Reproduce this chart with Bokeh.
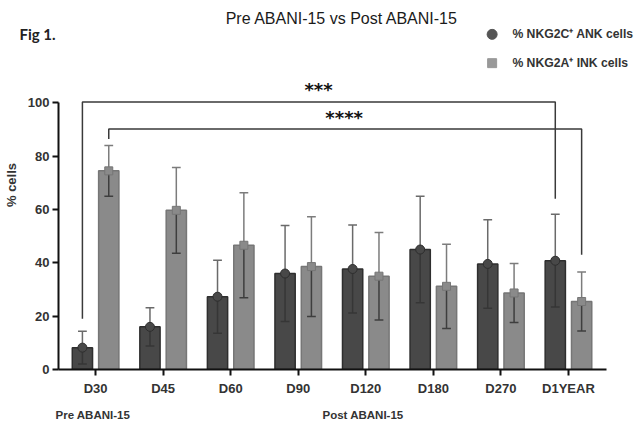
from bokeh.plotting import figure
from bokeh.models import (ColumnDataSource, Range1d, FixedTicker, LinearAxis, Title)
from bokeh.core.properties import value
from bokeh.embed import file_html
from bokeh.resources import INLINE

# ---- data ----
categories = ["D30", "D45", "D60", "D90", "D120", "D180", "D270", "D1YEAR"]
nkg2c_mean = [8.2, 16.0, 27.3, 36.0, 37.7, 45.0, 39.6, 40.8]
nkg2c_sd = [6.1, 7.2, 13.7, 18.0, 16.5, 20.0, 16.6, 17.4]
nkg2a_mean = [74.5, 59.7, 46.6, 38.6, 35.0, 31.2, 28.7, 25.5]
nkg2a_sd = [9.5, 16.1, 19.7, 18.7, 16.4, 15.8, 11.1, 11.1]
y_ticks = [0, 20, 40, 60, 80, 100]
series_names = ["% NKG2C\u207a ANK cells", "% NKG2A\u207a INK cells"]
group_labels = ["Pre ABANI-15", "Post ABANI-15"]
group_pos = [-0.04, 3.96]
sig_outer = "***"
sig_inner = "****"

FONT = "Liberation Sans"
DARK = "#484848"
DARK_LINE = "#2e2e2e"
LIGHT = "#8a8a8a"
LIGHT_LINE = "#767676"

X0, X_AXIS_END = -0.549, 7.568
p = figure(width=637, height=423, output_backend="svg", toolbar_location=None,
           x_range=Range1d(X0, 8.022), y_range=Range1d(0, 138.4),
           min_border_left=52, min_border_right=0, min_border_top=0,
           min_border_bottom=53, x_axis_type=None, y_axis_type=None)
p.grid.visible = False
p.outline_line_color = None
p.background_fill_color = "white"
p.border_fill_color = "white"

off = 0.195
w = 0.30
xs = list(range(len(categories)))
xd = [x - off for x in xs]
xl = [x + off for x in xs]

src_d = ColumnDataSource(dict(x=xd, top=nkg2c_mean,
                              hi=[m + s for m, s in zip(nkg2c_mean, nkg2c_sd)],
                              lo=[m - s for m, s in zip(nkg2c_mean, nkg2c_sd)]))
src_l = ColumnDataSource(dict(x=xl, top=nkg2a_mean,
                              hi=[m + s for m, s in zip(nkg2a_mean, nkg2a_sd)],
                              lo=[m - s for m, s in zip(nkg2a_mean, nkg2a_sd)]))

cap = 0.065
for src, fill, line, up_col, in_col, marker, msize in [
        (src_d, DARK, DARK_LINE, "#6a6a6a", "#363636", "circle", 9),
        (src_l, LIGHT, LIGHT_LINE, "#7c7c7c", "#3e3e3e", "square", 8)]:
    p.vbar(x="x", top="top", bottom=0, width=w, source=src, fill_color=fill,
           line_color=line, line_width=1.5)
    p.segment(x0="x", y0="top", x1="x", y1="hi", source=src, line_color=up_col, line_width=1.5)
    p.segment(x0="x", y0="lo", x1="x", y1="top", source=src, line_color=in_col, line_width=1.5)
    d = src.data
    p.segment(x0=[x - cap for x in d["x"]], x1=[x + cap for x in d["x"]],
              y0=d["hi"], y1=d["hi"], line_color=up_col, line_width=1.5)
    p.segment(x0=[x - cap for x in d["x"]], x1=[x + cap for x in d["x"]],
              y0=d["lo"], y1=d["lo"], line_color=in_col, line_width=1.5)
    p.scatter(x="x", y="top", source=src, marker=marker, size=msize,
              fill_color=fill, line_color=line, line_width=1)

# significance brackets
BR = "#3a3a3a"
p.line(x=[xd[0], xd[0], xd[-1], xd[-1]], y=[19, 100.3, 100.3, 64], line_color=BR, line_width=1.5)
p.line(x=[xl[0], xl[0], xl[-1], xl[-1]], y=[86.5, 90.2, 90.2, 43], line_color=BR, line_width=1.5)
p.text(x=[3.3], y=[105.0], text=[sig_outer], text_font=value("DejaVu Sans"), text_font_style="bold",
       text_font_size="18px", text_align="center", text_baseline="alphabetic", text_color="#111")
p.text(x=[3.68], y=[94.5], text=[sig_inner], text_font=value("DejaVu Sans"), text_font_style="bold",
       text_font_size="18px", text_align="center", text_baseline="alphabetic", text_color="#111")

# title
p.text(x=[3.65], y=[131.5], text=["Pre ABANI-15 vs Post ABANI-15"], text_font=value(FONT),
       text_font_size="16px", text_align="center", text_baseline="middle", text_color="#1a1a1a")

# legend
p.scatter(x=[5.87], y=[125.7], marker="circle", size=10, fill_color="#555", line_color="#555")
p.scatter(x=[5.87], y=[114.9], marker="square", size=9, fill_color="#999", line_color="#999")
p.text(x=[6.17, 6.17], y=[125.7, 114.9], text=series_names, text_font=value(FONT),
       text_font_style="bold", text_font_size="12.2px", text_align="left",
       text_baseline="middle", text_color="#333")

# axes
yax = LinearAxis(ticker=FixedTicker(ticks=y_ticks), bounds=(0, 100), axis_label="% cells")
yax.axis_line_width = 2
yax.axis_line_color = "#111"
yax.major_tick_line_width = 2
yax.major_tick_line_color = "#111"
yax.major_tick_out = 6
yax.major_tick_in = 0
yax.minor_tick_line_color = None
yax.major_label_text_font = FONT
yax.major_label_text_font_style = "bold"
yax.major_label_text_font_size = "13px"
yax.major_label_text_color = "#333"
yax.major_label_standoff = 3
yax.axis_label_text_font = FONT
yax.axis_label_text_font_style = "bold"
yax.axis_label_text_font_size = "13px"
yax.axis_label_text_color = "#333"
yax.axis_label_standoff = 6
p.add_layout(yax, "left")

xax = LinearAxis(ticker=FixedTicker(ticks=xs), bounds=(X0, X_AXIS_END),
                 major_label_overrides={i: c for i, c in enumerate(categories)})
xax.axis_line_width = 2
xax.axis_line_color = "#111"
xax.major_tick_line_width = 2
xax.major_tick_line_color = "#111"
xax.major_tick_out = 6
xax.major_tick_in = 0
xax.minor_tick_line_color = None
xax.major_label_text_font = FONT
xax.major_label_text_font_style = "bold"
xax.major_label_text_font_size = "13px"
xax.major_label_text_color = "#333"
xax.major_label_standoff = 5
p.add_layout(xax, "below")

gax = LinearAxis(ticker=FixedTicker(ticks=group_pos),
                 major_label_overrides={group_pos[i]: g for i, g in enumerate(group_labels)})
gax.axis_line_color = None
gax.major_tick_line_color = None
gax.minor_tick_line_color = None
gax.major_tick_out = 0
gax.major_tick_in = 0
gax.major_label_standoff = 10
gax.major_label_text_font = FONT
gax.major_label_text_font_style = "bold"
gax.major_label_text_font_size = "11.5px"
gax.major_label_text_color = "#333"
p.add_layout(gax, "below")

# figure tag as a zero-height title that overlaps the top of the frame
tag = Title(text="Fig 1.", align="left", offset=-39, standoff=-84, vertical_align="bottom",
            text_font="Lato", text_font_style="bold", text_font_size="15px", text_color="#222")
p.add_layout(tag, "above")

open("out.html", "w").write(file_html(p, INLINE))
